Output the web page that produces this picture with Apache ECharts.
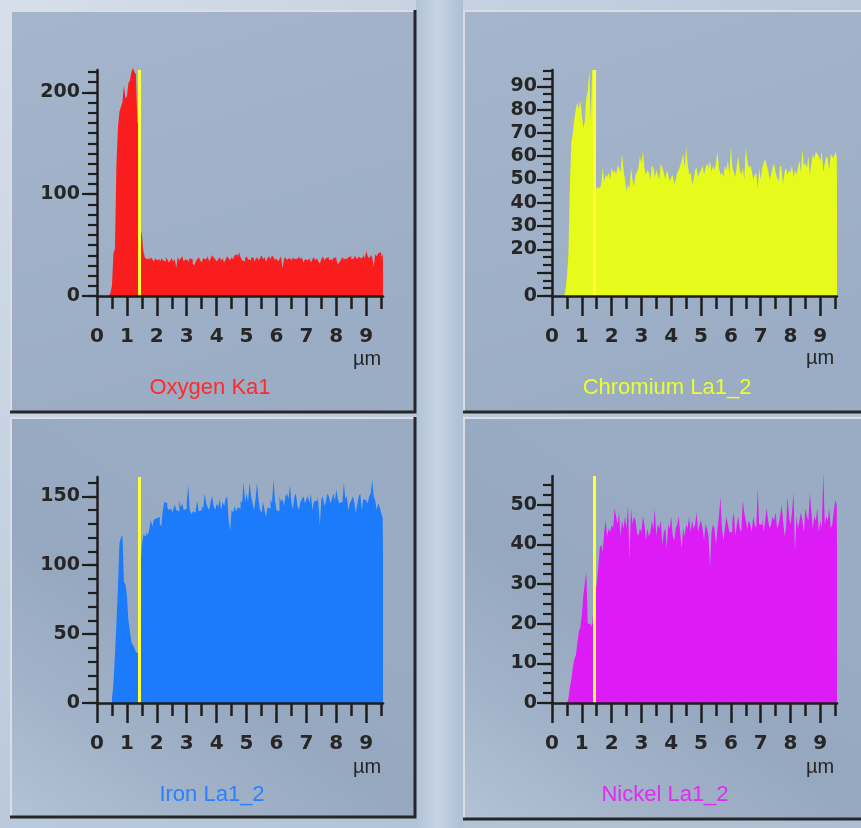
<!DOCTYPE html>
<html>
<head>
<meta charset="utf-8">
<script src="https://cdn.jsdelivr.net/npm/echarts@6/dist/echarts.min.js"></script>
<style>
  html, body { margin: 0; padding: 0; background: #c3cfdd; }
  #chart { width: 861px; height: 828px; }
</style>
</head>
<body>
<div id="chart"></div>
<script>
// Line-scan profiles: counts per 0.05 µm bin, from 0.00 µm up to 9.55 µm (one row per µm).
const binWidthUm = 0.05;
const markerUm = 1.42;
const xTickLabels = [0, 1, 2, 3, 4, 5, 6, 7, 8, 9];
const xHalfTicks = [0.5, 1.5, 2.5, 3.5, 4.5, 5.5, 6.5, 7.5, 8.5, 9.5];

const oxygenCounts = [
  0,0,0,0,0,0,0,0,0,3, 10,42,46,130,165,181,186,190,207,194,
  196,209,212,220,224,220,218,170,168,67, 60,44,38,36,37,35,38,36,34,37,
  35,36,33,37,35,34,38,36,33,35, 37,34,36,28,38,35,37,39,34,36,
  35,33,37,36,32,30,34,36,38,35, 33,37,36,35,39,34,37,40,38,36,
  34,36,38,35,37,33,36,39,37,35, 38,36,40,41,37,43,38,35,34,37,
  39,36,35,38,37,34,36,38,35,37, 40,36,38,34,37,39,36,40,38,35,
  37,34,36,39,27,36,38,35,37,36, 34,38,36,37,35,39,36,38,33,36,
  35,34,37,33,36,38,35,37,34,32, 36,39,35,37,38,35,36,34,37,38,
  36,31,33,35,38,36,37,35,38,39, 36,37,40,38,36,39,37,38,41,37,
  44,39,37,40,38,29,41,39,42,43, 38,41
];
const chromiumCounts = [
  0,0,0,0,0,0,0,0,0,2, 8,18,48,66,70,76,80,83,80,84,
  78,72,75,85,88,97,75,97,97,47, 46,47,46,48,55,49,52,51,53,50,
  55,53,54,52,56,55,53,61,54,50, 45,48,46,55,50,47,52,53,55,60,
  57,62,55,52,54,53,50,56,55,51, 54,52,50,57,55,53,50,54,52,49,
  51,52,48,50,53,54,56,58,61,55, 64,57,52,53,48,50,54,55,51,53,
  54,56,52,55,57,55,58,53,56,54, 57,62,55,52,53,51,56,54,58,52,
  64,55,53,51,56,60,54,52,55,50, 64,58,55,56,54,50,52,53,46,55,
  50,55,57,59,56,54,50,52,55,57, 53,51,49,56,55,48,53,55,52,54,
  53,56,51,54,52,55,58,53,63,56, 57,55,60,52,57,61,59,62,61,60,
  58,62,53,57,60,59,54,61,60,59, 62,60
];
const ironCounts = [
  0,0,0,0,0,0,0,0,0,0, 3,14,35,58,84,116,120,122,88,86,
  78,60,52,44,42,40,37,36,70,97, 115,122,121,124,122,126,133,128,133,134,
  135,135,130,128,140,146,145,142,140,141, 138,140,144,140,139,147,142,145,140,141,
  146,158,140,137,139,138,140,147,139,140, 143,141,152,145,142,140,146,150,143,140,
  145,142,148,140,146,143,148,150,133,125, 140,138,143,139,142,141,147,145,160,146,
  152,146,160,150,145,140,148,160,147,140, 138,146,140,135,142,141,148,145,162,147,
  140,139,150,146,148,143,150,152,148,158, 145,141,150,152,143,140,146,148,150,145,
  148,150,145,152,140,146,147,150,145,129, 148,150,143,146,152,150,145,148,152,147,
  155,148,145,146,144,160,148,150,140,145, 147,150,146,138,144,150,152,140,148,147,
  146,145,150,152,162,150,147,140,145,142, 138,134
];
const nickelCounts = [
  0,0,0,0,0,0,0,0,0,0, 0,1,4,6,9,11,12,15,18,19,
  22,27,30,33,20,20,19,20,25,28, 30,34,39,40,38,43,46,42,44,43,
  45,44,49,47,45,48,42,46,44,47, 44,50,36,49,45,47,46,43,42,44,
  43,47,45,41,44,42,43,46,44,49, 42,45,44,46,40,43,44,39,45,44,
  47,42,41,44,45,47,43,39,44,42, 45,44,47,43,46,44,45,48,43,45,
  46,44,41,45,44,42,34,43,45,44, 40,44,47,52,44,41,44,47,45,43,
  43,46,48,42,45,47,44,43,51,48, 46,44,46,45,43,47,45,44,54,45,
  45,47,43,46,49,46,44,45,47,46, 48,44,45,47,50,46,42,44,52,47,
  45,48,53,38,47,44,46,48,46,43, 49,47,46,53,48,44,47,46,49,43,
  46,44,58,45,47,46,49,44,45,48, 51,50
];

const oxygenYLabels = [0, 100, 200];
const chromiumYLabels = [0, 20, 30, 40, 50, 60, 70, 80, 90];
const ironYLabels = [0, 50, 100, 150];
const nickelYLabels = [0, 10, 20, 30, 40, 50];

// Layout of the four panels
const panels = [
  { title: 'Oxygen Ka1', counts: oxygenCounts, color: '#fa1d1d', titleColor: '#ff2a2a',
    yMax: 222, yLabels: oxygenYLabels, majorStep: 100, minorStep: 10,
    grid: { left: 97, top: 70, width: 286, height: 226 }, labelMargin: 17,
    box: { x: 10, y: 10, w: 406, h: 403 }, titleAt: [210, 388], unitAt: [367, 359] },
  { title: 'Chromium La1_2', counts: chromiumCounts, color: '#e6fb1c', titleColor: '#e8ff2c',
    yMax: 97, yLabels: chromiumYLabels, majorStep: 10, minorStep: 10 / 3,
    grid: { left: 552, top: 70, width: 285, height: 226 }, labelMargin: 15,
    box: { x: 463, y: 10, w: 420, h: 403 }, titleAt: [667, 388], unitAt: [820, 358] },
  { title: 'Iron La1_2', counts: ironCounts, color: '#1b7bfb', titleColor: '#2b80ff',
    yMax: 164, yLabels: ironYLabels, majorStep: 50, minorStep: 10,
    grid: { left: 97, top: 477, width: 286, height: 226 }, labelMargin: 17,
    box: { x: 10, y: 417, w: 406, h: 401 }, titleAt: [212, 795], unitAt: [367, 767] },
  { title: 'Nickel La1_2', counts: nickelCounts, color: '#dd1bf6', titleColor: '#e02cf2',
    yMax: 57.2, yLabels: nickelYLabels, majorStep: 10, minorStep: 2.5,
    grid: { left: 552, top: 476, width: 285, height: 227 }, labelMargin: 15,
    box: { x: 463, y: 417, w: 420, h: 403 }, titleAt: [665, 795], unitAt: [820, 767] }
];

const axisColor = '#1e1e1e';
const labelColor = '#262626';
const numFont = '"DejaVu Sans", "Liberation Sans", Arial, sans-serif';
const textFont = '"Liberation Sans", Arial, sans-serif';

function stepValues(step, max) {
  const out = [];
  for (let k = 0; k * step <= max + 1e-6; k++) out.push(+(k * step).toFixed(4));
  return out;
}

const grids = [], xAxes = [], yAxes = [], series = [];
const graphics = [];

// Sky-coloured backdrop behind the panels
graphics.push({
  type: 'rect', z: -100, silent: true,
  shape: { x: 0, y: 0, width: 861, height: 828 },
  style: { fill: new echarts.graphic.LinearGradient(0, 0, 1, 1, [
    { offset: 0, color: '#d6dfea' }, { offset: 0.5, color: '#b9c8da' }, { offset: 1, color: '#aebfd3' }
  ]) }
});
graphics.push({
  type: 'rect', z: -99, silent: true,
  shape: { x: 416, y: 0, width: 47, height: 828 },
  style: { fill: new echarts.graphic.LinearGradient(0, 0, 1, 0, [
    { offset: 0, color: '#b2c3d8' }, { offset: 0.45, color: '#c6d4e4' }, { offset: 1, color: '#aebfd4' }
  ]) }
});

panels.forEach((p, i) => {
  const b = p.box;
  const topPanel = b.y < 100;
  graphics.push({
    type: 'rect', z: -90, silent: true,
    shape: { x: b.x, y: b.y, width: b.w, height: b.h },
    style: { fill: topPanel
      ? new echarts.graphic.LinearGradient(0, 0, 0.3, 1, [
          { offset: 0, color: '#a5b5cb' }, { offset: 1, color: '#9badc4' }
        ])
      : new echarts.graphic.LinearGradient(0, 1, 0.55, 0.2, [
          { offset: 0, color: '#b3c2d5' }, { offset: 0.3, color: '#a2b3c9' },
          { offset: 0.6, color: '#96a8bf' }, { offset: 1, color: '#9aacc3' }
        ]) }
  });
  // bevel: light top/left, dark bottom/right
  graphics.push({ type: 'polyline', z: -80, silent: true,
    shape: { points: [[b.x + 1, b.y + b.h], [b.x + 1, b.y + 1], [b.x + b.w, b.y + 1]] },
    style: { stroke: '#d9dee6', lineWidth: 2, fill: null } });
  graphics.push({ type: 'polyline', z: -80, silent: true,
    shape: { points: [[b.x, b.y + b.h - 1], [b.x + b.w - 1, b.y + b.h - 1], [b.x + b.w - 1, b.y]] },
    style: { stroke: '#262626', lineWidth: 3, fill: null } });

  grids.push(Object.assign({ containLabel: false }, p.grid));

  const xMain = xAxes.length;
  xAxes.push({
    type: 'value', gridIndex: i, position: 'bottom', min: 0, max: 9.56, z: 5,
    axisLine: { show: true, onZero: false, lineStyle: { color: axisColor, width: 2.5 } },
    axisTick: { show: true, customValues: xTickLabels, length: 20, lineStyle: { color: axisColor, width: 2.5 } },
    axisLabel: { customValues: xTickLabels, margin: 31, color: labelColor, fontFamily: numFont, fontSize: 20, fontWeight: 'bold' },
    splitLine: { show: false }
  });
  xAxes.push({
    type: 'value', gridIndex: i, position: 'bottom', min: 0, max: 9.56, z: 5,
    axisLine: { show: false },
    axisTick: { show: true, customValues: xHalfTicks, length: 13, lineStyle: { color: axisColor, width: 2.5 } },
    axisLabel: { show: false },
    splitLine: { show: false }
  });

  const yMain = yAxes.length;
  yAxes.push({
    type: 'value', gridIndex: i, position: 'left', min: 0, max: p.yMax, z: 5,
    axisLine: { show: true, onZero: false, lineStyle: { color: axisColor, width: 2.5 } },
    axisTick: { show: true, customValues: stepValues(p.minorStep, p.yMax), length: 9, lineStyle: { color: axisColor, width: 2.2 } },
    axisLabel: { customValues: p.yLabels, margin: p.labelMargin, color: labelColor, fontFamily: numFont, fontSize: 19, fontWeight: 'bold' },
    splitLine: { show: false }
  });
  yAxes.push({
    type: 'value', gridIndex: i, position: 'left', min: 0, max: p.yMax, z: 5,
    axisLine: { show: false },
    axisTick: { show: true, customValues: stepValues(p.majorStep, p.yMax), length: 15, lineStyle: { color: axisColor, width: 2.2 } },
    axisLabel: { show: false },
    splitLine: { show: false }
  });

  const pts = p.counts.map((c, k) => [+(k * binWidthUm).toFixed(2), c]);
  pts.push([+(p.counts.length * binWidthUm).toFixed(2), p.counts[p.counts.length - 1]]);

  series.push({
    type: 'line', name: p.title, xAxisIndex: xMain, yAxisIndex: yMain,
    data: pts, step: 'end', symbol: 'none', clip: false, z: 3,
    lineStyle: { width: 0, color: p.color },
    itemStyle: { color: p.color },
    areaStyle: { color: p.color, opacity: 1 },
    markLine: {
      silent: true, symbol: ['none', 'none'], animation: false,
      label: { show: false },
      lineStyle: { color: '#ffff3a', width: 3, type: 'solid', opacity: 1 },
      data: [{ xAxis: markerUm }]
    }
  });

  graphics.push({ type: 'text', z: 10, silent: true,
    style: { text: p.title, x: p.titleAt[0], y: p.titleAt[1], align: 'center', verticalAlign: 'middle',
      fill: p.titleColor, font: '22px ' + textFont } });
  graphics.push({ type: 'text', z: 10, silent: true,
    style: { text: 'µm', x: p.unitAt[0], y: p.unitAt[1], align: 'center', verticalAlign: 'middle',
      fill: labelColor, font: '20px ' + textFont } });
});

const chart = echarts.init(document.getElementById('chart'), null, { renderer: 'canvas' });
chart.setOption({
  animation: false,
  backgroundColor: 'transparent',
  grid: grids,
  xAxis: xAxes,
  yAxis: yAxes,
  series: series,
  graphic: { elements: graphics }
});
</script>
</body>
</html>
